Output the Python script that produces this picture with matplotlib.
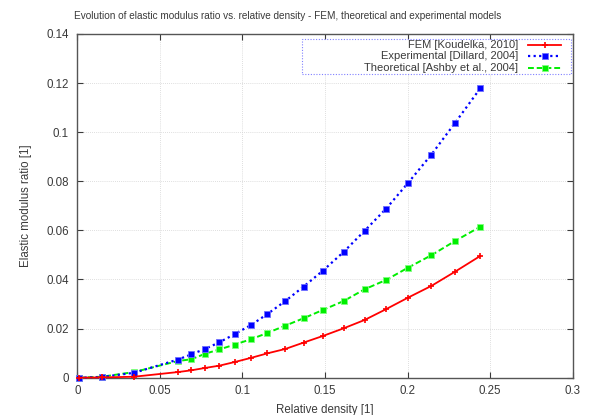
import matplotlib
matplotlib.use("Agg")
import matplotlib.pyplot as plt
from matplotlib.ticker import FuncFormatter, MultipleLocator
from matplotlib.lines import Line2D
from matplotlib.patches import Rectangle

plt.rcParams['font.family'] = ['Liberation Sans', 'DejaVu Sans']

# Data
density = [0.001, 0.015, 0.0344, 0.061, 0.069, 0.0776, 0.086, 0.0954, 0.1053, 0.115,
           0.1259, 0.137, 0.1487, 0.1612, 0.1739, 0.1869, 0.2002, 0.2144, 0.2285, 0.244]
fem = [0.0, 0.0001, 0.0004, 0.0023, 0.0030, 0.0040, 0.0049, 0.0064, 0.0081, 0.0099,
       0.0117, 0.0143, 0.0170, 0.0201, 0.0235, 0.0279, 0.0326, 0.0374, 0.0431, 0.0496]
experimental = [0.0, 0.0003, 0.0020, 0.0074, 0.0095, 0.0118, 0.0144, 0.0178, 0.0215, 0.0259,
                0.0312, 0.0371, 0.0436, 0.0512, 0.0598, 0.0688, 0.0793, 0.0909, 0.1036, 0.1179]
theoretical = [0.0, 0.0004, 0.0023, 0.0068, 0.0075, 0.0098, 0.0115, 0.0135, 0.0157, 0.0182,
               0.0212, 0.0242, 0.0276, 0.0312, 0.0360, 0.0398, 0.0448, 0.0499, 0.0556, 0.0615]

labels = ["FEM [Koudelka, 2010]", "Experimental [Dillard, 2004]", "Theoretical [Ashby et al., 2004]"]
title = "Evolution of elastic modulus ratio vs. relative density - FEM, theoretical and experimental models"

fig = plt.figure(figsize=(5.97, 4.15), dpi=100)
ax = fig.add_axes([0.1295, 0.0899, 0.830, 0.8282])

red = '#ff0000'
blue = '#0000ff'
green = '#00ee00'
txt = '#3a3a3a'

styles = [
    dict(color=red, linestyle='-', marker='+', markersize=5, markeredgewidth=1.2, linewidth=1.3),
    dict(color=blue, linestyle=(0, (1, 1.5)), marker='s', markersize=4.0, markeredgewidth=0.6,
         markeredgecolor='#6f6fff', linewidth=1.6),
    dict(color=green, linestyle=(0, (3, 1.5)), marker='s', markersize=4.0, markeredgewidth=0.6,
         markeredgecolor='#7fff7f', linewidth=1.4),
]
series = [fem, experimental, theoretical]
for i in [2, 1, 0]:
    ax.plot(density, series[i], zorder=3 + (2 - i), clip_on=False, **styles[i])

ax.set_xlim(0, 0.3)
ax.set_ylim(0, 0.14)
ax.xaxis.set_major_locator(MultipleLocator(0.05))
ax.yaxis.set_major_locator(MultipleLocator(0.02))
fmt = FuncFormatter(lambda v, p: '%g' % round(v, 4))
ax.xaxis.set_major_formatter(fmt)
ax.yaxis.set_major_formatter(fmt)
ax.tick_params(direction='in', length=4, width=0.8, top=True, right=True,
               labelsize=8.3, colors=txt, pad=5)
ax.tick_params(axis='y', pad=6)
for s in ax.spines.values():
    s.set_color('#555555')
    s.set_linewidth(1.0)
ax.grid(True, color='#d4d4d4', linestyle=(0, (1, 1.5)), linewidth=0.6)
ax.set_axisbelow(True)

fig.text(0.481, 1 - 16 / 415, title, fontsize=7.2, color=txt, ha='center', va='center')
ax.set_xlabel("Relative density [1]", fontsize=8.3, color=txt, labelpad=5)
ax.set_ylabel("Elastic modulus ratio [1]", fontsize=8.3, color=txt, labelpad=10)

# Legend (gnuplot style: right-aligned text, sample on the right)
box = Rectangle((0.454, 0.883), 0.542, 0.102, transform=ax.transAxes, fill=True,
                facecolor='white', edgecolor='#8080ff', linestyle=(0, (1, 1.5)),
                linewidth=0.8, zorder=6)
ax.add_patch(box)
rows_y = [0.968, 0.935, 0.901]
for i, (lab, y) in enumerate(zip(labels, rows_y)):
    ax.text(0.89, y, lab, transform=ax.transAxes, ha='right', va='center',
            fontsize=8.0, color=txt, zorder=7)
    ln = Line2D([0.91, 0.9435, 0.977], [y, y, y], transform=ax.transAxes, zorder=7, **styles[i])
    ln.set_markevery([1])
    ax.add_line(ln)

fig.savefig("out.png", dpi=100)
